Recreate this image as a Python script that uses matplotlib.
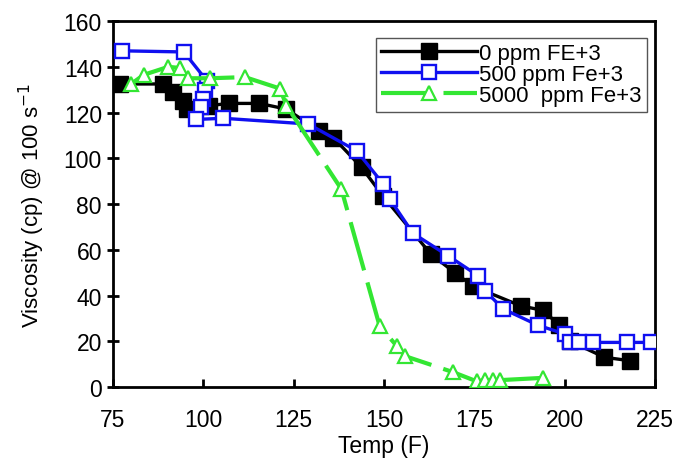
import matplotlib
matplotlib.use("Agg")
import matplotlib.pyplot as plt

plt.rcParams['font.family'] = ['Liberation Sans', 'DejaVu Sans']

# 0 ppm FE+3
temp_0 = [77, 88.8, 91.5, 94.5, 95.5, 101.5, 107, 115.5, 123, 132, 136, 143.8,
          149.7, 163, 169.6, 174.7, 187.8, 194, 198.5, 201.5, 211, 218]
visc_0 = [132.5, 132.5, 129, 125, 121.5, 123, 124, 124, 121.5, 112, 109, 96,
          83.5, 58, 50, 44, 35.5, 33.5, 27, 20, 13, 11.5]

# 500 ppm Fe+3
temp_500 = [77.4, 94.6, 100.9, 100.4, 99.8, 99.3, 98.1, 105.5, 129, 142.4, 149.8,
            151.6, 158, 167.7, 176, 178, 183, 192.6, 200, 201.5, 204, 207.8,
            217.3, 223.8]
visc_500 = [147, 146.5, 134, 130, 126, 122.5, 117, 117.5, 115, 103.3, 88.7,
            82.2, 67.2, 57.4, 48.7, 42, 34.1, 27, 23.2, 19.5, 19.5, 19.5,
            19.5, 19.5]

# 5000 ppm Fe+3
temp_5000 = [80, 83.5, 90.3, 93.5, 95.8, 101.8, 111.5, 121.2, 123, 138.2, 148.8,
             153.5, 155.8, 169.1, 175.6, 178, 180.2, 182, 194]
visc_5000 = [132.5, 136.5, 140, 139.5, 135, 135, 135.5, 130.5, 123, 86.5, 26.5,
             18, 13.5, 6.5, 2.5, 3, 3, 3, 4]

xticks = [75, 100, 125, 150, 175, 200, 225]
yticks = [0, 20, 40, 60, 80, 100, 120, 140, 160]

fig = plt.figure(figsize=(6.78, 4.6), dpi=100)
ax = fig.add_axes([0.1667, 0.1565, 0.7995, 0.7955])

ax.plot(temp_0, visc_0, color='black', lw=2.4, marker='s', ms=11.5,
        mfc='black', mec='black', label='0 ppm FE+3', zorder=3)
ax.plot(temp_500, visc_500, color='#1010f0', lw=2.4, marker='s', ms=10.5,
        mfc='white', mec='#1010f0', mew=1.7, label='500 ppm Fe+3', zorder=4)
ax.plot(temp_5000, visc_5000, color='#33e633', lw=3, marker='^', ms=10,
        mfc='white', mec='#33e633', mew=1.6, dashes=(12, 3),
        label='5000  ppm Fe+3', zorder=5)

ax.set_xlim(75, 225)
ax.set_ylim(0, 160)
ax.set_xticks(xticks)
ax.set_yticks(yticks)
ax.tick_params(axis='x', direction='in', length=6, width=2, labelsize=16.5, pad=15)
ax.tick_params(axis='y', direction='inout', length=8, width=2, labelsize=16.5, pad=4)
for s in ax.spines.values():
    s.set_linewidth(2)

ax.set_xlabel('Temp (F)', fontsize=16.5, labelpad=2)
ax.set_ylabel('Viscosity (cp) @ 100 s$^{-1}$', fontsize=16, labelpad=12)

leg = ax.legend(loc='upper right', bbox_to_anchor=(0.985, 0.955), fontsize=16,
                handlelength=4.3, handletextpad=0.1, labelspacing=0.0,
                borderpad=0.25, borderaxespad=0, fancybox=False, framealpha=1)
leg.get_frame().set_edgecolor('#555555')
leg.get_frame().set_linewidth(1)

fig.savefig('out.png', dpi=100)
